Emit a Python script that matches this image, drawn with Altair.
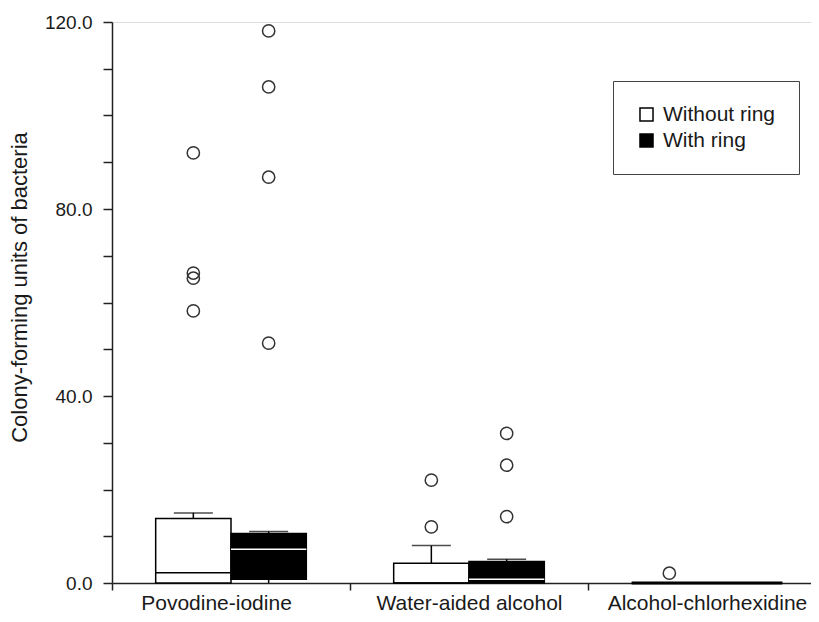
import altair as alt
import pandas as pd

categories = ["Povodine-iodine", "Water-aided alcohol", "Alcohol-chlorhexidine"]
groups = ["Without ring", "With ring"]

box_category = ["Povodine-iodine", "Povodine-iodine",
                "Water-aided alcohol", "Water-aided alcohol",
                "Alcohol-chlorhexidine", "Alcohol-chlorhexidine"]
box_group = ["Without ring", "With ring"] * 3
q1 = [0.0, 0.8, 0.0, 0.0, 0.0, 0.0]
median = [2.2, 7.2, 0.0, 0.8, 0.0, 0.0]
q3 = [13.8, 10.6, 4.2, 4.6, 0.0, 0.0]
whisker_low = [0.0, 0.0, 0.0, 0.0, 0.0, 0.0]
whisker_high = [15.0, 11.0, 8.0, 5.1, 0.0, 0.0]

outlier_category = ["Povodine-iodine"] * 8 + ["Water-aided alcohol"] * 5 + ["Alcohol-chlorhexidine"]
outlier_group = (["Without ring"] * 4 + ["With ring"] * 4
                 + ["Without ring"] * 2 + ["With ring"] * 3 + ["Without ring"])
outlier_value = [92.0, 66.3, 65.2, 58.2, 118.1, 106.1, 86.8, 51.3,
                 22.0, 12.0, 32.0, 25.2, 14.2, 2.1]

boxes_df = pd.DataFrame({
    "category": box_category, "group": box_group, "q1": q1, "median": median,
    "q3": q3, "lo": whisker_low, "hi": whisker_high,
})
flat = [b <= a for a, b in zip(q1, q3)]
boxes_df["mcolor"] = [
    "white" if (g == "With ring" and not f) else "black"
    for g, f in zip(box_group, flat)
]
boxes_df["mwidth"] = [3.0 if f else 1.5 for f in flat]
out_df = pd.DataFrame({"category": outlier_category, "group": outlier_group, "value": outlier_value})

FONT = "Liberation Sans"
INK = "#1a1a1a"

x_enc = alt.X(
    "category:N", sort=categories,
    scale=alt.Scale(domain=categories, range=[0, 714], paddingInner=0, paddingOuter=0),
    axis=alt.Axis(title=None, tickBand="extent", labelAngle=0, tickSize=7, tickWidth=1.5,
                  tickColor="#222", domainColor="#222", domainWidth=1.5,
                  labelFontSize=21, labelPadding=2, labelColor=INK, labelFont=FONT,
                  labelLimit=400,
                  labelOffset={"condition": {"test": "datum.value == 'Povodine-iodine'", "value": -15},
                               "value": 0}),
)
xoff = alt.XOffset("group:N", sort=groups,
                   scale=alt.Scale(domain=groups, paddingInner=0, paddingOuter=0.58))
yscale = alt.Scale(domain=[0, 120], nice=False, zero=True)
yaxis = alt.Axis(
    title="Colony-forming units of bacteria", values=list(range(0, 121, 10)),
    labelExpr="datum.value % 40 == 0 ? format(datum.value, '.1f') : ''",
    tickSize=9, tickWidth=1.5, tickColor="#222", domainColor="#222", domainWidth=1.5,
    labelPadding=11, labelFontSize=19, labelColor=INK, labelFont=FONT,
    titleFontSize=22, titleFont=FONT, titleFontWeight="normal", titleColor=INK,
    titlePadding=13, titleY=265, grid=False,
)

base = alt.Chart(boxes_df)

boxes = base.mark_bar(stroke="black", strokeWidth=1.5).encode(
    x=x_enc, xOffset=xoff,
    y=alt.Y("q1:Q", scale=yscale, axis=yaxis), y2="q3:Q",
    fill=alt.Fill("group:N", sort=groups,
                  scale=alt.Scale(domain=groups, range=["white", "black"]),
                  legend=alt.Legend(title=None, orient="none", legendX=501, legendY=59,
                                    fillColor="white", strokeColor="#444",
                                    padding=23, symbolType="square", symbolSize=170,
                                    symbolStrokeColor="black", symbolStrokeWidth=1.5,
                                    labelFontSize=21, labelFont=FONT, labelColor=INK,
                                    labelOffset=6, rowPadding=4)),
)

medians = base.mark_bar(fillOpacity=0).encode(
    x=x_enc, xOffset=xoff,
    y=alt.Y("median:Q", scale=yscale, axis=yaxis), y2="median:Q",
    stroke=alt.Stroke("mcolor:N", scale=None),
    strokeWidth=alt.StrokeWidth("mwidth:Q", scale=None),
)

whisk_up = base.mark_rule(color="black", strokeWidth=1.5).encode(
    x=x_enc, xOffset=xoff,
    y=alt.Y("q3:Q", scale=yscale, axis=yaxis), y2="hi:Q",
)
whisk_lo = base.mark_rule(color="black", strokeWidth=1.5).encode(
    x=x_enc, xOffset=xoff,
    y=alt.Y("lo:Q", scale=yscale, axis=yaxis), y2="q1:Q",
)
caps = base.mark_tick(orient="horizontal", size=39, thickness=1.5, color="black").encode(
    x=x_enc, xOffset=xoff,
    y=alt.Y("hi:Q", scale=yscale, axis=yaxis),
)
points = alt.Chart(out_df).mark_point(shape="circle", filled=False, size=150,
                                      strokeWidth=1.5, color="#333", opacity=1).encode(
    x=x_enc, xOffset=xoff,
    y=alt.Y("value:Q", scale=yscale, axis=yaxis),
)

chart = alt.layer(boxes, medians, whisk_up, whisk_lo, caps, points).properties(
    width=699, height=561,
    autosize=alt.AutoSizeParams(type="none"),
    padding={"left": 104, "top": 14, "right": 0, "bottom": 31},
    background="white",
).configure_view(stroke="transparent").configure(font=FONT)

chart.save("out.html", embed_options={"renderer": "svg", "actions": False})
